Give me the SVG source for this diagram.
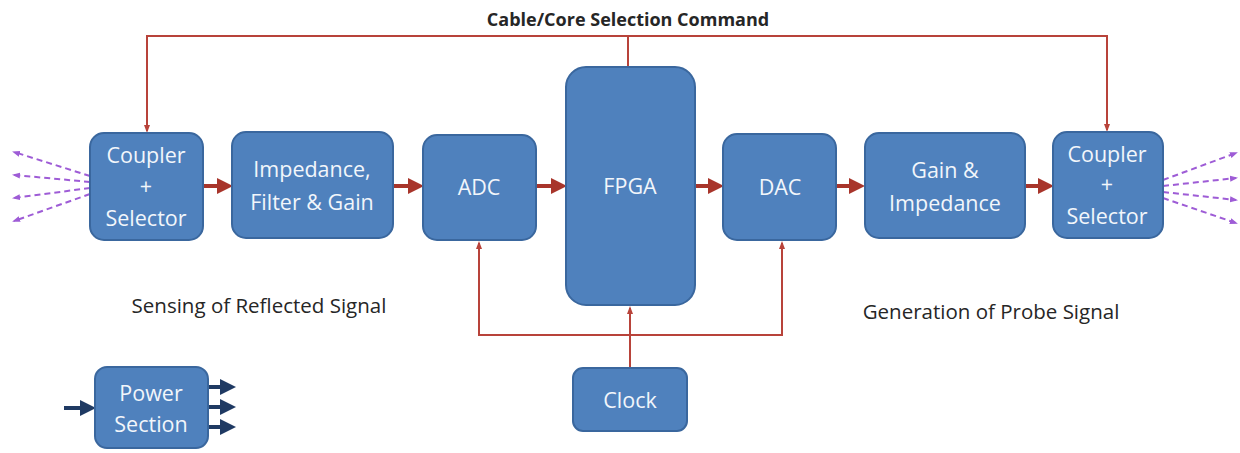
<svg xmlns="http://www.w3.org/2000/svg" width="1240" height="453" viewBox="0 0 1240 453">
<style>
.box{fill:#4F81BD;stroke:#3A679E;stroke-width:2}
.bt{fill:#F2F6FB;font-family:"Open Sans","Noto Sans",sans-serif;font-size:21.5px;text-anchor:middle}
.lbl{fill:#262626;font-family:"Open Sans","Noto Sans",sans-serif;font-size:20.5px;text-anchor:middle}
.ttl{fill:#262626;font-family:"Open Sans","Noto Sans",sans-serif;font-size:18px;font-weight:bold;text-anchor:middle}
.red{stroke:#B8433A;stroke-width:2;fill:none}
.thick{stroke:#A8352B;stroke-width:4;fill:none}
.dash{stroke:#9E5CD6;stroke-width:2;stroke-dasharray:6 4;fill:none}
.navy{stroke:#1F3A63;stroke-width:4;fill:none}
</style>
<defs>
<marker id="ah" markerWidth="4" markerHeight="4" refX="3" refY="2" orient="auto" markerUnits="strokeWidth"><path d="M0,0 L4,2 L0,4 z" fill="#A8352B"/></marker>
<marker id="as" markerWidth="8" markerHeight="8" refX="6" refY="4" orient="auto" markerUnits="userSpaceOnUse"><path d="M0,1 L8,4 L0,7 z" fill="#B8433A"/></marker>
<marker id="ap" markerWidth="8" markerHeight="8" refX="6" refY="4" orient="auto" markerUnits="userSpaceOnUse"><path d="M0,1 L8,4 L0,7 z" fill="#9E5CD6"/></marker>
<marker id="an" markerWidth="4" markerHeight="4" refX="3" refY="2" orient="auto" markerUnits="strokeWidth"><path d="M0,0 L4,2 L0,4 z" fill="#1F3A63"/></marker>
</defs>
<rect width="1240" height="453" fill="#FFFFFF"/>
<g id="connectors">
<polyline class="red" points="628,67 628,36 147,36 147,131" marker-end="url(#as)"/>
<polyline class="red" points="628,36 1107,36 1107,130" marker-end="url(#as)"/>
<line class="thick" x1="203" y1="186" x2="229" y2="186" marker-end="url(#ah)"/>
<line class="thick" x1="393" y1="186" x2="420" y2="186" marker-end="url(#ah)"/>
<line class="thick" x1="536" y1="186" x2="563" y2="186" marker-end="url(#ah)"/>
<line class="thick" x1="695" y1="186" x2="720" y2="186" marker-end="url(#ah)"/>
<line class="thick" x1="836" y1="186" x2="861" y2="186" marker-end="url(#ah)"/>
<line class="thick" x1="1025" y1="186" x2="1050" y2="186" marker-end="url(#ah)"/>
<line class="red" x1="630" y1="368" x2="630" y2="308" marker-end="url(#as)"/>
<polyline class="red" points="630,335 479,335 479,243" marker-end="url(#as)"/>
<polyline class="red" points="630,335 782,335 782,243" marker-end="url(#as)"/>
<line class="dash" x1="90" y1="176" x2="14" y2="152" marker-end="url(#ap)"/>
<line class="dash" x1="90" y1="182" x2="14" y2="175" marker-end="url(#ap)"/>
<line class="dash" x1="90" y1="188" x2="14" y2="198" marker-end="url(#ap)"/>
<line class="dash" x1="90" y1="194" x2="14" y2="221" marker-end="url(#ap)"/>
<line class="dash" x1="1163" y1="180" x2="1236" y2="153" marker-end="url(#ap)"/>
<line class="dash" x1="1163" y1="186" x2="1236" y2="178" marker-end="url(#ap)"/>
<line class="dash" x1="1163" y1="192" x2="1236" y2="200" marker-end="url(#ap)"/>
<line class="dash" x1="1163" y1="198" x2="1236" y2="223" marker-end="url(#ap)"/>
<line class="navy" x1="64" y1="408" x2="92" y2="408" marker-end="url(#an)"/>
<line class="navy" x1="208" y1="387" x2="232" y2="387" marker-end="url(#an)"/>
<line class="navy" x1="208" y1="407" x2="232" y2="407" marker-end="url(#an)"/>
<line class="navy" x1="208" y1="427" x2="232" y2="427" marker-end="url(#an)"/>
</g>
<g id="coupler-left"><rect class="box" x="90" y="133" width="113" height="107" rx="14"/>
<text class="bt" x="146" y="163">Coupler</text><text class="bt" x="146" y="194">+</text><text class="bt" x="146" y="226">Selector</text></g>
<g id="impedance-filter"><rect class="box" x="232" y="132" width="161" height="106" rx="14"/>
<text class="bt" x="312" y="177">Impedance,</text><text class="bt" x="312" y="210">Filter &amp; Gain</text></g>
<g id="adc"><rect class="box" x="423" y="135" width="113" height="105" rx="14"/>
<text class="bt" x="479" y="195">ADC</text></g>
<g id="fpga"><rect class="box" x="566" y="67" width="129" height="238" rx="20"/>
<text class="bt" x="630" y="194">FPGA</text></g>
<g id="dac"><rect class="box" x="723" y="134" width="113" height="106" rx="14"/>
<text class="bt" x="780" y="195">DAC</text></g>
<g id="gain-impedance"><rect class="box" x="865" y="133" width="160" height="105" rx="14"/>
<text class="bt" x="945" y="178">Gain &amp;</text><text class="bt" x="945" y="211">Impedance</text></g>
<g id="coupler-right"><rect class="box" x="1053" y="132" width="110" height="106" rx="14"/>
<text class="bt" x="1107" y="162">Coupler</text><text class="bt" x="1107" y="192">+</text><text class="bt" x="1107" y="224">Selector</text></g>
<g id="clock"><rect class="box" x="573" y="368" width="114" height="63" rx="10"/>
<text class="bt" x="630" y="408">Clock</text></g>
<g id="power"><rect class="box" x="95" y="367" width="113" height="81" rx="12"/>
<text class="bt" x="151" y="401">Power</text><text class="bt" x="151" y="432">Section</text></g>
<text class="lbl" x="259" y="313">Sensing of Reflected Signal</text>
<text class="lbl" x="991" y="319">Generation of Probe Signal</text>
<text class="ttl" x="628" y="26">Cable/Core Selection Command</text>
</svg>
